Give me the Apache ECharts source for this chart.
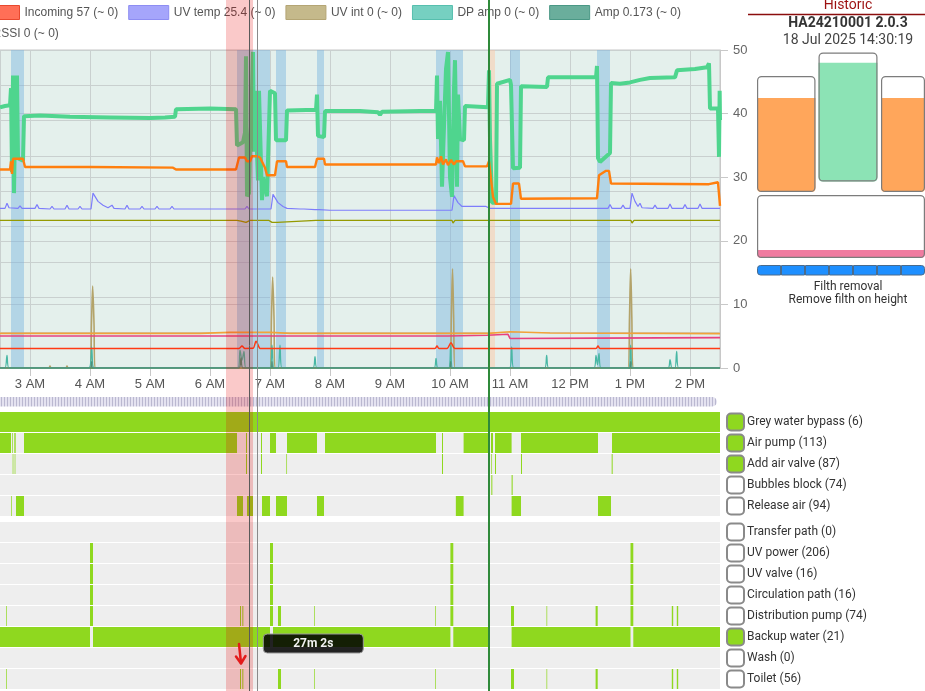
<!DOCTYPE html>
<html><head><meta charset="utf-8">
<script src="https://cdn.jsdelivr.net/npm/echarts@6/dist/echarts.min.js"></script>
<style>html,body{margin:0;padding:0;background:#fff;}#c{width:925px;height:691px;}</style>
</head><body><div id="c"></div>
<script>
function T(s){ const p = s.split(':').map(Number); return new Date(2025,6,18,p[0],p[1],p[2]||0).getTime(); }
const viewStart = '02:30', viewEnd = '14:30';
const xTickHours = [3,4,5,6,7,8,9,10,11,12,13,14];

// ---- main plot series (time, value) ----
const levelData = [['02:30',41.0],['02:35',41.2],['02:40',41.3],['02:41',44],['02:42',30.8],['02:43',46],['02:44',27.5],['02:45',38],['02:46',33],['02:47',46],['02:48',33],['02:50',32.8],['02:53',32.6],['02:54',39.6],['03:10',39.7],['03:40',39.5],['04:20',39.4],['05:00',39.3],['05:15',39.4],['05:25',39.5],['05:26',40.7],['06:00',40.8],['06:26',40.7],['06:27',35],['06:29',34.7],['06:33',35.5],['06:35',37],['06:36',49],['06:37',27],['06:39',27.5],['06:40',35],['06:41',38],['06:43',49.7],['06:44',34],['06:45',43.6],['06:46',38],['06:48',29.5],['06:49',43.6],['06:52',26.4],['06:53',30],['06:57',27],['07:00',43.6],['07:05',43.2],['07:06',35.8],['07:16',35.8],['07:17',40.5],['07:46',40.6],['07:47',43],['07:48',36.5],['07:54',36.3],['07:55',40.4],['08:30',40.4],['08:48',40.2],['08:50',39.8],['08:52',40.3],['09:30',40.4],['09:46',40.4],['09:47',46],['09:48',36],['09:50',42],['09:52',28.5],['09:54',38],['09:56',47],['09:58',49.7],['10:00',30],['10:02',26.9],['10:04',44],['10:05',48.4],['10:07',28.5],['10:08',43],['10:10',36],['10:12',35.8],['10:14',35.8],['10:15',41.2],['10:38',41.0],['10:39',46.8],['10:40',36],['10:42',26],['10:46',26],['10:47',44.7],['11:00',45.3],['11:01',44.5],['11:03',31.4],['11:10',31.5],['11:11',44.3],['11:37',44.2],['11:38',45.7],['12:26',45.7],['12:27',47.5],['12:28',33],['12:30',32.4],['12:40',33.8],['12:41',44.8],['12:50',44.7],['13:00',44.9],['13:10',45.3],['13:20',45.6],['13:45',45.7],['13:47',46.8],['14:05',47.0],['14:17',47.3],['14:19',47.9],['14:20',40.8],['14:28',40.8],['14:29',33.2],['14:29:40',43.6],['14:30',39]];
const tankData = [['02:30',31.2],['02:40',31.2],['02:41',32.5],['02:42',30.5],['02:43',32.9],['02:53',32.9],['02:55',31.6],['04:00',31.6],['05:23',31.5],['05:26',31.2],['06:26',31.2],['06:29',33.1],['06:35',33.1],['06:37',32.5],['06:40',32.5],['06:42',33.3],['06:47',33.3],['06:50',33.1],['06:55',31.5],['06:57',30.3],['07:05',30.3],['07:07',32.5],['07:16',32.5],['07:17',31.6],['07:45',31.6],['07:47',32.9],['07:54',32.9],['07:55',32.0],['09:46',32.0],['09:47',33.1],['09:49',32.2],['09:51',33.3],['09:53',32.0],['09:56',32.8],['09:58',31.9],['10:01',32.7],['10:04',32.0],['10:06',32.5],['10:13',32.5],['10:15',31.7],['10:37',31.7],['10:39',32.5],['10:43',26.9],['10:46',25.8],['11:01',25.8],['11:03',29.0],['11:09',29.0],['11:11',26.6],['12:27',26.7],['12:29',30.3],['12:36',31.0],['12:39',31.0],['12:41',29.0],['14:19',28.9],['14:20',29.2],['14:28',29.2],['14:30',25.5]];
const uvTempData = [['02:30',25.1],['02:35',25.1],['02:37',25.9],['02:39',25.2],['02:48',25.1],['02:50',25.5],['02:52',25.1],['03:05',25.1],['03:07',25.7],['03:09',25.1],['03:20',25.0],['03:22',25.4],['03:24',25.0],['03:35',25.0],['03:37',25.6],['03:39',25.0],['03:48',25.0],['03:50',25.4],['03:52',25.0],['04:01',25.0],['04:03',27.5],['04:08',26.2],['04:13',25.6],['04:18',25.2],['04:22',25.6],['04:24',25.1],['04:35',25.0],['04:37',25.6],['04:39',25.0],['04:50',25.0],['04:52',25.4],['04:54',25.0],['05:05',25.0],['05:07',25.4],['05:09',25.0],['05:20',25.0],['05:22',25.4],['05:24',25.0],['05:35',25.0],['05:37',25.3],['05:39',25.0],['05:50',25.0],['05:52',25.3],['05:54',25.0],['06:05',25.0],['06:07',25.3],['06:09',25.0],['06:20',25.0],['06:22',25.3],['06:24',25.0],['06:35',25.0],['06:37',25.4],['06:39',25.0],['07:01',25.0],['07:03',27.3],['07:08',26.0],['07:13',25.4],['07:17',25.1],['07:30',25.0],['07:32',25.3],['07:34',25.0],['07:45',24.9],['07:47',25.2],['07:49',24.9],['08:00',24.8],['08:21',24.8],['08:23',25.0],['08:25',24.8],['08:35',24.8],['08:37',25.0],['08:39',24.8],['08:50',24.8],['08:52',25.0],['08:54',24.8],['09:05',24.8],['09:07',25.0],['09:09',24.8],['09:20',24.8],['09:22',25.0],['09:24',24.8],['09:35',24.8],['09:37',25.0],['09:39',24.8],['09:50',24.8],['09:52',24.9],['10:02',24.8],['10:04',27.1],['10:08',26.0],['10:12',25.4],['10:21',25.4],['10:23',25.7],['10:25',25.4],['10:36',25.4],['10:38',25.6],['10:40',25.1],['10:53',25.1],['10:55',25.4],['10:57',25.1],['11:08',25.1],['11:10',25.4],['11:12',25.1],['11:23',25.1],['11:25',25.4],['11:27',25.1],['11:38',25.1],['11:40',25.4],['11:42',25.1],['11:53',25.1],['11:55',25.4],['11:57',25.1],['12:08',25.1],['12:10',25.4],['12:12',25.1],['12:25',25.1],['12:27',25.4],['12:29',25.1],['12:38',25.1],['12:40',25.7],['12:42',25.1],['12:51',25.1],['12:53',25.6],['12:55',25.1],['13:00',25.1],['13:02',27.5],['13:05',26.2],['13:08',25.4],['13:10',25.9],['13:12',25.2],['13:23',25.1],['13:25',25.6],['13:27',25.1],['13:38',25.1],['13:40',25.8],['13:42',25.1],['13:53',25.1],['13:55',25.7],['13:57',25.1],['14:08',25.1],['14:10',25.8],['14:12',25.1],['14:23',25.1],['14:25',25.4],['14:27',25.1],['14:30',25.1]];
const oliveData = [['02:30',23.2],['02:39',23.2],['02:40',22.9],['02:41',23.2],['03:58',23.2],['04:00',22.9],['04:03',23.2],['06:27',23.2],['06:28',22.9],['06:31',23.1],['06:36',22.9],['06:40',23.2],['06:55',23.2],['06:57',22.9],['06:59',23.2],['07:02',22.9],['07:04',23.2],['07:07',22.9],['07:09',23.2],['07:46',23.2],['07:47',22.9],['07:48',23.2],['09:36',23.2],['09:37',22.9],['09:38',23.2],['09:46',23.2],['09:47',22.9],['09:48',23.2],['10:02',23.2],['10:03',22.8],['10:05',23.2],['10:42',23.2],['10:43',22.9],['10:45',23.2],['10:55',23.2],['10:57',22.9],['11:00',23.2],['11:36',23.2],['11:37',22.9],['11:38',23.2],['12:26',23.2],['12:27',22.9],['12:28',23.2],['12:37',23.2],['12:38',22.9],['12:39',23.2],['13:01',23.2],['13:02',22.8],['13:04',23.2],['13:40',23.2],['13:41',22.9],['13:42',23.2],['13:46',23.2],['13:47',22.9],['13:48',23.2],['14:09',23.2],['14:10',22.9],['14:11',23.2],['14:30',23.2]];
const uvIntData = [['02:30',0],['03:19',0],['03:20',0.3],['03:21',0],['03:36',0],['03:37',0.3],['03:38',0],['04:00',0],['04:01:30',7],['04:02:40',12.9],['04:04',7],['04:05',0],['07:00',0],['07:01:30',8],['07:02:40',14.3],['07:04',8],['07:05',0],['10:00',0],['10:01:20',8],['10:02:30',15.6],['10:03:40',8],['10:05',0],['12:58',0],['12:59:30',8],['13:00:40',15.6],['13:01:50',8],['13:03',0],['14:30',0]];
const orangeThinData = [['02:30',5.45],['05:50',5.45],['06:20',5.6],['07:00',5.6],['07:20',5.45],['10:38',5.45],['10:40',5.7],['11:00',5.7],['11:40',5.5],['14:30',5.4]];
const pinkData = [['02:30',5.02],['09:58',5.02],['10:00',5.15],['10:37',5.15],['10:38',5.3],['10:58',5.3],['11:00',4.65],['12:30',4.7],['14:30',4.78]];
const incomingData = [['02:30',3.08],['06:29',3.08],['06:32',3.45],['06:35',3.08],['06:43',3.1],['06:46',4.2],['06:49',3.3],['06:50',3.08],['09:45',3.08],['09:47',3.45],['09:49',3.08],['09:57',3.08],['10:01',3.97],['10:05',3.08],['12:26',3.08],['12:28',3.45],['12:30',3.08],['14:30',3.08]];
const dpAmpData = [['02:30',0],['02:35',0],['02:37',2.0],['02:39',0],['03:59',0],['04:01:40',3.3],['04:04',0],['06:28',0],['06:30',2.8],['06:32',1.2],['06:34',2.6],['06:36',0],['07:00',0],['07:02',3.6],['07:04',0],['07:08',0],['07:10',3.6],['07:12',0],['07:43',0],['07:45',1.8],['07:47',0],['09:44',0],['09:46',1.5],['09:48',0],['09:58:40',0],['10:00:40',3.6],['10:02:40',0],['10:59:40',0],['11:01:40',3.3],['11:03:40',0],['11:34:40',0],['11:36:40',2.0],['11:38:40',0],['12:24',0],['12:26',2.0],['12:27:30',0.5],['12:29',2.3],['12:31',0],['12:58:40',0],['13:00:40',3.6],['13:02:40',0],['13:38',0],['13:40',1.3],['13:42',0],['13:45',0],['13:46:40',2.6],['13:48:40',0],['14:30',0]];
const ampData = [['02:30',0],['04:00:40',0],['04:01:40',1.0],['04:02:40',0],['06:29',0],['06:31',1.6],['06:33',0],['07:01',0],['07:02',1.0],['07:03',0],['09:59:40',0],['10:00:40',1.0],['10:01:40',0],['12:59:40',0],['13:00:40',1.0],['13:01:40',0],['14:30',0]];
const rssiData = [['02:30',0],['14:30',0]];

// ---- highlighted periods ----
const blueBands = [['02:41','02:54'],['06:27','07:00'],['07:06','07:16'],['07:47','07:54'],['09:46','10:13'],['11:00','11:10'],['12:27','12:40']];
const peachBands = [['10:40','10:45']];
const selectedRange = ['06:16:00','06:43:02'];
const cursorLines = [['06:39:18','#5a5a5a',1],['06:47:18','#8a8a8a',1],['10:38:10','#e8bd1c',1],['10:38:50','#2f8a3a',2]];
const arrowTime = '06:30:30';

// ---- legend ----
const nIncoming = 'Incoming 57 (~ 0)', nUvTemp = 'UV temp 25.4 (~ 0)', nUvInt = 'UV int 0 (~ 0)', nDpAmp = 'DP amp 0 (~ 0)', nAmp = 'Amp 0.173 (~ 0)', nRssi = 'RSSI 0 (~ 0)';

// ---- state strips ----
const segGreyWaterBypass = [['02:30','14:30']];
const segAirPump = [['02:30','02:41'],['02:42','02:42:40'],['02:44:20','02:45:40'],['02:54','06:27'],['06:36','06:37'],['06:51','06:52'],['07:00','07:06'],['07:17','07:47'],['07:55','09:46'],['09:52','09:53'],['10:13:36','10:38:30'],['10:41','10:43'],['10:45','11:01:36'],['11:11','12:28'],['12:42','14:30']];
const segAddAirValve = [['02:42:40','02:43:20'],['02:44:40','02:45:20'],['06:36','06:37'],['06:51','06:52'],['07:16:20','07:16:50'],['09:52','09:53'],['10:41:20','10:42'],['10:45','10:46'],['11:11','11:12'],['12:41:40','12:42:40']];
const segBubblesBlock = [['10:41:20','10:42:20'],['11:01:36','11:02:40']];
const segReleaseAir = [['02:41','02:41:40'],['02:46','02:54'],['06:27','06:33'],['06:37','06:43'],['06:52','07:00'],['07:06','07:17'],['07:47','07:54'],['10:05:50','10:13:36'],['11:01:36','11:11'],['12:28','12:41']];
const segTransferPath = [];
const segUvPower = [['04:00','04:03'],['07:00','07:03'],['10:00:24','10:03:18'],['13:00:30','13:03:18']];
const segUvValve = [['04:00','04:03'],['07:00','07:03'],['10:00:24','10:03:18'],['13:00:30','13:03:18']];
const segCirculationPath = [['04:00','04:03'],['07:00','07:03'],['10:00:24','10:03:18'],['13:00:30','13:03:18']];
const segDistributionPump = [['02:36','02:36:40'],['04:00','04:03'],['06:30','06:31'],['06:32:20','06:33:20'],['07:00','07:03'],['07:08','07:11'],['07:44','07:44:40'],['09:45','09:45:40'],['10:00:24','10:03:18'],['11:01','11:04'],['11:36:30','11:37:10'],['12:25:36','12:27:42'],['13:00:30','13:03:18'],['13:41:48','13:43:12'],['13:46:48','13:48:12']];
const segBackupWater = [['02:30','04:00'],['04:03','07:00'],['07:03','10:00:24'],['10:03:18','10:38:30'],['11:01:36','13:00:30'],['13:03:18','14:30']];
const segWash = [];
const segToilet = [['02:36','02:36:40'],['06:30','06:31'],['06:32:20','06:33:20'],['07:08','07:11'],['07:44','07:44:40'],['09:45','09:45:40'],['11:01','11:04'],['11:36:30','11:37:10'],['12:25:36','12:27:42'],['13:41:48','13:43:12'],['13:46:48','13:48:12']];

const stripLabelsA = ['Grey water bypass (6)','Air pump (113)','Add air valve (87)','Bubbles block (74)','Release air (94)'];
const stripCheckedA = [true,true,true,false,false];
const stripSegsA = [segGreyWaterBypass,segAirPump,segAddAirValve,segBubblesBlock,segReleaseAir];
const stripLabelsB = ['Transfer path (0)','UV power (206)','UV valve (16)','Circulation path (16)','Distribution pump (74)','Backup water (21)','Wash (0)','Toilet (56)'];
const stripCheckedB = [false,false,false,false,false,true,false,false];
const stripSegsB = [segTransferPath,segUvPower,segUvValve,segCirculationPath,segDistributionPump,segBackupWater,segWash,segToilet];

// ---- status panel ----
const panelTitle = 'Historic', deviceId = 'HA24210001 2.0.3', stampText = '18 Jul 2025 14:30:19';
const modeTitle = 'Filth removal', modeDesc = 'Remove filth on height';
const tankLevels = [81, 92, 81];
const tankColors = ['#ffa65b','#8ce3b5','#ffa65b'];
const lowerTankLevel = [12.6];
const progressSegments = [1,1,1,1,1,1,1];

// =====================================================
const TS = d => d.map(p => [T(p[0]), p[1]]);
const xMin = T(viewStart), xMax = T(viewEnd);
const FONT = 'Liberation Sans, Arial, sans-serif';
const RFONT = 'Roboto, Liberation Sans, sans-serif';

function fmtHour(v){ const d = new Date(v); let h = d.getHours(); const ap = h < 12 ? 'AM' : 'PM'; h = h % 12 || 12; return xTickHours.indexOf(d.getHours()) >= 0 ? h + ' ' + ap : ''; }

function lineSeries(name, data, color, width, extra){
  return Object.assign({type:'line', name, data:TS(data), xAxisIndex:0, yAxisIndex:0, symbol:'none', showSymbol:false,
    lineStyle:{color, width}, itemStyle:{color}, emphasis:{disabled:true}, animation:false}, extra||{});
}

function segData(segs){ const out=[]; segs.forEach((row,i)=>row.forEach(s=>out.push([i, T(s[0]), T(s[1])]))); return out; }
function renderSeg(params, api){
  const cat = api.value(0), s = api.value(1), e = api.value(2);
  const p0 = api.coord([s, cat]), p1 = api.coord([e, cat]);
  const h = api.size([0,1])[1];
  return {type:'rect', shape:{x:p0[0], y:p0[1]-h/2+0.5, width:Math.max(p1[0]-p0[0],0.7), height:h-1}, style:{fill:'#8fd81f'}};
}
function stripAxis(grid, labels, checked){
  return {type:'category', gridIndex:grid, data:labels, inverse:true, position:'right',
    axisLine:{show:false}, axisTick:{show:false},
    splitArea:{show:true, areaStyle:{color:['#eeeeee','#eeeeee']}},
    splitLine:{show:true, lineStyle:{color:'#ffffff', width:1}},
    axisLabel:{interval:0, margin:8, formatter:(v,i)=>'{' + (checked[i]?'on':'off') + '| }{t|' + v + '}',
      rich:{
        on:{width:15, height:15, backgroundColor:'#8fd81f', borderColor:'#8a8a8a', borderWidth:2, borderRadius:3},
        off:{width:15, height:15, backgroundColor:'#ffffff', borderColor:'#8a8a8a', borderWidth:2, borderRadius:3},
        t:{fontSize:12, color:'#333', fontFamily:RFONT, padding:[0,0,0,4]}
      }}};
}

const tankGrids = [
  {left:757, top:76, width:58.5, height:116},
  {left:818.5, top:52.5, width:59, height:129},
  {left:881, top:76, width:58.5, height:116},
  {left:757, top:195, width:182, height:63}
];

const option = {
  animation:false,
  textStyle:{fontFamily:FONT},
  legend:[
    {left:-21, top:5, padding:0, itemWidth:40, itemHeight:14, itemGap:10, icon:'rect', width:1000,
     textStyle:{color:'#555', fontSize:12, fontFamily:FONT},
     data:[
      {name:nIncoming, itemStyle:{color:'#ff6f57', borderColor:'#e8482e', borderWidth:1}},
      {name:nUvTemp, itemStyle:{color:'#a5a5fb', borderColor:'#8d8df2', borderWidth:1}},
      {name:nUvInt, itemStyle:{color:'#c5b98b', borderColor:'#b4a574', borderWidth:1}},
      {name:nDpAmp, itemStyle:{color:'#76d0c1', borderColor:'#56bfae', borderWidth:1}},
      {name:nAmp, itemStyle:{color:'#6aae9c', borderColor:'#4a9885', borderWidth:1}}
     ]},
    {left:-53, top:26, padding:0, itemWidth:40, itemHeight:14, icon:'rect',
     textStyle:{color:'#555', fontSize:12, fontFamily:FONT},
     data:[{name:nRssi, itemStyle:{color:'#8fbf7a', borderColor:'#6f9e5a', borderWidth:1}}]}
  ],
  grid:[
    {left:0, right:205, top:50, height:318, show:true, backgroundColor:'#e4f0ec', borderColor:'#c6c6c6', borderWidth:1},
    {left:0, right:205, top:411.5, height:105},
    {left:0, right:205, top:521.5, height:168},
    {left:0, right:205, top:0, height:691},
    tankGrids[0], tankGrids[1], tankGrids[2], tankGrids[3],
    {left:757, top:265, width:182, height:10.5}
  ],
  xAxis:[
    {type:'time', gridIndex:0, min:xMin, max:xMax, minInterval:3600000, maxInterval:3600000, splitNumber:12,
     axisLine:{show:false},
     axisTick:{show:true, length:8, lineStyle:{color:'#c8c8c8'}},
     axisLabel:{formatter:fmtHour, color:'#555', fontSize:13, margin:10, showMinLabel:false, showMaxLabel:false},
     splitLine:{show:true, lineStyle:{color:'#c9d0cf'}}},
    {type:'time', gridIndex:1, min:xMin, max:xMax, show:false},
    {type:'time', gridIndex:2, min:xMin, max:xMax, show:false},
    {type:'time', gridIndex:3, min:xMin, max:xMax, show:false},
    {type:'category', gridIndex:4, data:['L'], show:false},
    {type:'category', gridIndex:5, data:['M'], show:false},
    {type:'category', gridIndex:6, data:['R'], show:false},
    {type:'category', gridIndex:7, data:['B'], show:false},
    {type:'value', gridIndex:8, min:0, max:7, show:false}
  ],
  yAxis:[
    {type:'value', gridIndex:0, position:'right', min:0, max:50, interval:10,
     axisLine:{show:true, lineStyle:{color:'#c8c8c8'}}, axisTick:{show:true, length:8, lineStyle:{color:'#c8c8c8'}},
     axisLabel:{color:'#666', fontSize:13, margin:13}, splitLine:{show:true, lineStyle:{color:'#c9d0cf'}}},
    {type:'value', gridIndex:0, position:'left', min:0, max:45, interval:5,
     axisLine:{show:false}, axisTick:{show:false}, axisLabel:{show:false}, splitLine:{show:true, lineStyle:{color:'#c9d0cf'}}},
    stripAxis(1, stripLabelsA, stripCheckedA),
    stripAxis(2, stripLabelsB, stripCheckedB),
    {type:'value', gridIndex:3, min:0, max:1, show:false},
    {type:'value', gridIndex:4, min:0, max:100, show:false},
    {type:'value', gridIndex:5, min:0, max:100, show:false},
    {type:'value', gridIndex:6, min:0, max:100, show:false},
    {type:'value', gridIndex:7, min:0, max:100, show:false},
    {type:'category', gridIndex:8, data:['S'], show:false}
  ],
  series:[]
};

const S = option.series;
S.push(lineSeries(nRssi, rssiData, '#6f9e5a', 2, {
  markArea:{silent:true, z:1, itemStyle:{color:'rgba(120,180,225,0.45)'},
    data: blueBands.map(b=>[{xAxis:T(b[0])},{xAxis:T(b[1])}]).concat(
          peachBands.map(b=>[{xAxis:T(b[0]), itemStyle:{color:'rgba(255,196,160,0.45)'}},{xAxis:T(b[1])}]))}
}));
S.push(lineSeries('Olive', oliveData, '#959a00', 1.3));
S.push(lineSeries(nUvInt, uvIntData, '#b3a36a', 1.6, {smooth:0.3}));
S.push(lineSeries(nDpAmp, dpAmpData, '#48b7a4', 1.3, {smooth:0.3}));
S.push(lineSeries(nAmp, ampData, '#4f8f78', 1.3, {smooth:0.3}));
S.push(lineSeries(nIncoming, incomingData, '#ff3a14', 1.5, {smooth:0.3}));
S.push(lineSeries('Pink', pinkData, '#e8407f', 1.6));
S.push(lineSeries('Orange', orangeThinData, '#f2a23a', 1.6));
S.push(lineSeries(nUvTemp, uvTempData, '#7d7dfb', 1.2));
S.push(lineSeries('Level', levelData, '#4fd58e', 4));
S.push(lineSeries('Tank', tankData, '#ff7f0e', 2.4));

S.push({type:'custom', name:'stripsA', xAxisIndex:1, yAxisIndex:2, renderItem:renderSeg, encode:{x:[1,2], y:0}, data:segData(stripSegsA), clip:true, animation:false, silent:true});
S.push({type:'custom', name:'stripsB', xAxisIndex:2, yAxisIndex:3, renderItem:renderSeg, encode:{x:[1,2], y:0}, data:segData(stripSegsB), clip:true, animation:false, silent:true});

S.push({type:'line', name:'overlay', xAxisIndex:3, yAxisIndex:4, data:[[xMin,0.5]], symbol:'none', lineStyle:{width:0, opacity:0}, silent:true, z:30,
  markArea:{silent:true, z:30, itemStyle:{color:'rgba(230,0,0,0.21)'}, data:[[{xAxis:T(selectedRange[0])},{xAxis:T(selectedRange[1])}]]},
  markLine:{silent:true, z:31, symbol:['none','none'], label:{show:false},
    data: cursorLines.map(c=>({xAxis:T(c[0]), lineStyle:{color:c[1], width:c[2], type:'solid'}}))}
});

tankLevels.forEach((lv,i)=>{
  S.push({type:'bar', xAxisIndex:4+i, yAxisIndex:5+i, data:[lv], barWidth:'100%', silent:true, itemStyle:{color:tankColors[i], borderRadius:[0,0,4,4]}});
  S.push({type:'bar', xAxisIndex:4+i, yAxisIndex:5+i, data:[100], barWidth:'100%', barGap:'-100%', silent:true, z:3, itemStyle:{color:'rgba(0,0,0,0)', borderColor:'#7c7c7c', borderWidth:1.2, borderRadius:4}});
});
S.push({type:'bar', xAxisIndex:7, yAxisIndex:8, data:lowerTankLevel, barWidth:'100%', silent:true, itemStyle:{color:'#f07ba0', borderRadius:[0,0,4,4]}});
S.push({type:'bar', xAxisIndex:7, yAxisIndex:8, data:[100], barWidth:'100%', barGap:'-100%', silent:true, z:3, itemStyle:{color:'rgba(0,0,0,0)', borderColor:'#7c7c7c', borderWidth:1.2, borderRadius:4}});
progressSegments.forEach((v,i)=>{
  const last = i === progressSegments.length-1;
  S.push({type:'bar', xAxisIndex:8, yAxisIndex:9, stack:'prog', data:[v], barWidth:'100%', silent:true,
    itemStyle:{color:'#1e8fff', borderColor:'#4a6b8c', borderWidth:1, borderRadius: i===0?[3,0,0,3]:(last?[0,3,3,0]:0)}});
});

const chart = echarts.init(document.getElementById('c'));
chart.setOption(option);

const pc = document.createElement('canvas'); pc.width = 3; pc.height = 10;
const pctx = pc.getContext('2d'); pctx.fillStyle = '#e4e2f0'; pctx.fillRect(0,0,3,10); pctx.fillStyle = '#bab8d0'; pctx.fillRect(1,0,1,10);

const cursorX = chart.convertToPixel({xAxisIndex:0}, T(cursorLines[1][0]));
const arrowX = chart.convertToPixel({xAxisIndex:0}, T(arrowTime));
const endX = chart.convertToPixel({xAxisIndex:0}, xMax);
const durSec = Math.round((T(selectedRange[1]) - T(selectedRange[0]))/1000);
const durText = Math.floor(durSec/60) + 'm ' + (durSec%60) + 's';

chart.setOption({graphic:[
  {type:'rect', id:'scroll', z:0, shape:{x:0, y:397, width:endX-3, height:9.5, r:[0,5,5,0]}, style:{fill:{image:pc, repeat:'repeat'}}},
  {type:'text', id:'t1', x:848, y:5, style:{text:panelTitle, fill:'#9c1010', font:'14px ' + RFONT, textAlign:'center', textVerticalAlign:'middle'}},
  {type:'line', id:'ul', shape:{x1:748, y1:14.5, x2:925, y2:14.5}, style:{stroke:'#8b0d0d', lineWidth:1.5}},
  {type:'text', id:'t2', x:848, y:23, style:{text:deviceId, fill:'#333', font:'bold 14px ' + RFONT, textAlign:'center', textVerticalAlign:'middle'}},
  {type:'text', id:'t3', x:848, y:40, style:{text:stampText, fill:'#444', font:'14px ' + RFONT, textAlign:'center', textVerticalAlign:'middle'}},
  {type:'text', id:'t4', x:848, y:287, style:{text:modeTitle, fill:'#333', font:'12px ' + RFONT, textAlign:'center', textVerticalAlign:'middle'}},
  {type:'text', id:'t5', x:848, y:300, style:{text:modeDesc, fill:'#333', font:'12px ' + RFONT, textAlign:'center', textVerticalAlign:'middle'}},
  {type:'rect', id:'durbox', z:100, shape:{x:cursorX+6, y:634, width:100, height:19, r:4}, style:{fill:'rgba(0,0,0,0.86)', stroke:'#9a9a9a', lineWidth:1}},
  {type:'text', id:'durtxt', z:101, x:cursorX+56, y:643.5, style:{text:durText, fill:'#f2f2f2', font:'bold 12px ' + RFONT, textAlign:'center', textVerticalAlign:'middle'}},
  {type:'polyline', id:'arrow1', z:100, shape:{points:[[arrowX-1.5,644],[arrowX+0.5,663]]}, style:{stroke:'#e31b1b', lineWidth:2.5, lineCap:'round', fill:null}},
  {type:'polyline', id:'arrow2', z:100, shape:{points:[[arrowX-4.5,656.5],[arrowX+0.5,663.5],[arrowX+5,656]]}, style:{stroke:'#e31b1b', lineWidth:2.5, lineCap:'round', lineJoin:'round', fill:null}}
]});
</script>
</body></html>
